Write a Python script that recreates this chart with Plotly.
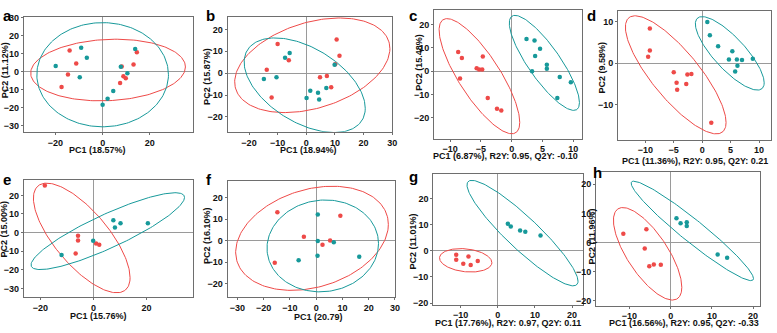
import numpy as np
import plotly.graph_objects as go

W, H = 777, 333
RED = "#EE4A48"
TEAL = "#17999A"

# ---------------- data ----------------
panels = ["a", "b", "c", "d", "e", "f", "g", "h"]

a_red_x = [-14.0, -11.2, -14.7, -17.4, 8.1, 8.8, 9.8, 7.4, 13.1, 14.5]
a_red_y = [11.7, 4.5, -1.6, -8.5, 2.9, -2.5, -3.6, -6.3, 4.0, 10.8]
a_teal_x = [-19.9, -9.1, -6.7, -9.7, 7.7, 10.5, 13.8, 4.5, 2.1, 0.0]
a_teal_y = [3.2, 13.2, 7.7, -3.1, 2.7, -0.9, 12.6, -10.8, -15.1, -18.4]

b_red_x = [-10.0, -13.8, -12.1, -6.1, 4.8, 7.2, 8.7, 10.6, 11.6, 10.1]
b_red_y = [13.3, 1.6, -11.1, 5.9, -1.9, -1.3, -6.4, 15.4, 8.0, 4.1]
b_teal_x = [-14.8, -10.4, -7.4, -5.8, 9.9, 1.4, 4.1, 4.5, 7.0, 0.1]
b_teal_y = [-2.7, -1.9, 7.0, 9.2, 3.9, -8.0, -8.9, -12.0, -6.8, -11.3]

c_red_x = [-8.7, -8.1, -8.4, -4.7, -5.7, -5.3, -4.8, -3.9, -2.4, -1.7]
c_red_y = [8.2, 5.6, -3.1, 6.3, 1.3, 0.7, 0.7, -11.5, -16.1, -16.8]
c_teal_x = [2.4, 3.7, 4.6, 3.8, 3.3, 5.7, 5.7, 7.8, 9.6, 7.4]
c_teal_y = [13.8, 13.1, 9.6, 6.5, 0.0, 2.8, 1.0, -2.5, -4.7, -11.5]

d_red_x = [-9.2, -9.2, -9.5, -5.0, -2.6, -1.9, -4.5, -4.4, -2.8, 1.6]
d_red_y = [8.4, 3.1, 1.6, -2.2, -2.7, -2.6, -4.7, -6.4, -5.0, -14.4]
d_teal_x = [0.9, 1.35, 2.8, 5.3, 4.7, 6.1, 7.0, 8.9, 6.2, 5.8]
d_teal_y = [10.0, 6.8, 4.1, 2.9, 0.9, 0.9, 0.8, 1.1, -0.6, -2.0]

e_red_x = [-18.3, -5.8, -5.8, -6.7, 1.0, 2.2]
e_red_y = [25.3, -1.6, -4.2, -11.2, -5.8, -6.5]
e_teal_x = [-12.0, -0.1, 7.5, 8.1, 10.2, 20.5]
e_teal_y = [-12.0, -4.4, 6.7, 2.8, 5.0, 5.0]

f_red_x = [-14.8, -4.7, -15.8, 5.3, 2.4, 9.2]
f_red_y = [13.2, 1.8, -10.3, 0.0, -2.0, 11.5]
f_teal_x = [0.6, 0.6, 0.5, -6.7, 6.7, 16.4]
f_teal_y = [12.1, -0.2, -7.1, -9.2, -0.8, -7.6]

g_red_x = [-11.2, -11.2, -7.9, -9.3, -7.3, -5.4]
g_red_y = [-1.5, -3.4, -2.1, -4.9, -5.4, -3.9]
g_teal_x = [2.7, 3.5, 6.0, 7.4, 11.5]
g_teal_y = [10.4, 9.4, 7.8, 7.4, 5.9]

h_red_x = [-11.5, -5.9, -6.3, -5.2, -4.1, -2.4]
h_red_y = [3.0, 4.5, -2.1, -8.2, -7.6, -7.7]
h_teal_x = [1.4, 2.4, 3.9, 3.9, 11.4, 13.7]
h_teal_y = [8.3, 6.6, 6.9, 5.6, -4.2, -5.3]

# confidence ellipses: centre x, centre y, half-width x, half-height y, phase
a_red_ell = [2.3, 0.9, 32.8, 17.1, 0.10]
a_teal_ell = [0.0, -1.7, 27.9, 28.9, 0.0]
b_red_ell = [2.1, 3.6, 27.1, 21.6, 0.36]
b_teal_ell = [-0.55, -5.5, 21.15, 21.6, -0.51]
c_red_ell = [-5.25, -2.15, 6.55, 24.65, -0.93]
c_teal_ell = [5.3, 3.55, 5.7, 20.35, -0.99]
d_red_ell = [-4.65, -2.8, 8.85, 14.3, -0.94]
d_teal_ell = [4.85, 2.4, 6.05, 8.9, -0.93]
e_red_ell = [-4.4, -2.85, 18.2, 29.4, -0.81]
e_teal_ell = [5.4, 0.8, 28.9, 20.6, 1.07]
f_red_ell = [-1.6, 1.05, 29.1, 24.25, 0.27]
f_teal_ell = [2.5, -2.5, 21.25, 21.4, 0.05]
g_red_ell = [-8.65, -3.6, 7.05, 4.5, -0.2]
g_teal_ell = [6.65, 6.85, 14.95, 20.25, -1.15]
h_red_ell = [-5.6, -3.95, 8.3, 15.95, -0.81]
h_teal_ell = [5.25, 3.95, 14.85, 17.15, -1.28]

x_titles = ["PC1 (18.57%)", "PC1 (18.94%)", "PC1 (6.87%), R2Y: 0.95, Q2Y: -0.10",
            "PC1 (11.36%), R2Y: 0.95, Q2Y: 0.21", "PC1 (15.76%)", "PC1 (20.79)",
            "PC1 (17.76%), R2Y: 0.97, Q2Y: 0.11", "PC1 (16.56%), R2Y: 0.95, Q2Y: -0.33"]
y_titles = ["PC2 (11.12%)", "PC2 (15.87%)", "PC2 (15.48%)", "PC2 (9.58%)",
            "PC2 (15.00%)", "PC2 (16.10%)", "PC2 (11.01%)", "PC2 (11.96%)"]

x_ticks = [[-20, 0, 20], [-20, -10, 0, 10, 20, 30], [-10, -5, 0, 5, 10],
           [-15, -10, -5, 0, 5, 10], [-20, 0, 20], [-30, -20, -10, 0, 10, 20, 30],
           [-10, 0, 10, 20], [-10, 0, 10, 20]]
y_ticks = [[-30, -20, -10, 0, 10, 20, 30], [-20, -10, 0, 10, 20], [-20, -10, 0, 10, 20],
           [-10, 0, 10], [-30, -20, -10, 0, 10, 20], [-20, -10, 0, 10, 20],
           [-20, -10, 0, 10, 20], [-20, -10, 0, 10, 20]]

# ---------------- layout (pixels) ----------------
boxes = {  # left, right, top, bottom
    "a": (24, 194, 13, 131), "b": (229, 395, 13, 131),
    "c": (437, 586, 6, 138), "d": (622, 776, 7, 139),
    "e": (24, 194, 180, 300), "f": (229, 398, 181, 300),
    "g": (436, 587, 174, 308), "h": (600, 765, 172, 309),
}
ranges = {
    "a": ([-33.4, 38.2], [-33.4, 30.5]), "b": ([-27.5, 30.1], [-26.8, 25.8]),
    "c": ([-12.6, 11.45], [-28.9, 26.25]), "d": ([-14.8, 12.1], [-18.5, 12.7]),
    "e": ([-26.2, 37.4], [-34.4, 28.4]), "f": ([-33.8, 30.2], [-26.2, 27.9]),
    "g": ([-17.4, 23.0], [-20.6, 29.6]), "h": ([-18.1, 21.7], [-21.8, 24.3]),
}
xt_pos = {"a": (98, 149.5), "b": (310, 149.5), "c": (509, 156), "d": (700, 160.5),
          "e": (99, 320), "f": (321, 320.5), "g": (511, 326.5), "h": (688, 326.5)}
yt_pos = {"a": (5, 68), "b": (209, 74), "c": (421, 60), "d": (606, 65),
          "e": (5, 230), "f": (209, 237), "g": (416, 243), "h": (596, 238)}
letter_pos = {"a": (1, 1), "b": (205, 1), "c": (410, 1), "d": (589, 1),
              "e": (1, 169), "f": (205, 169), "g": (410, 166), "h": (595, 162)}

FONT = "Liberation Sans, Arial"

data = globals()
fig = go.Figure()
t = np.linspace(0, 2 * np.pi, 200)
annotations = []
for i, p in enumerate(panels):
    n = "" if i == 0 else str(i + 1)
    xa, ya = "x" + n, "y" + n
    for col, key in [(RED, "red"), (TEAL, "teal")]:
        cx, cy, rx, ry, ph = data[f"{p}_{key}_ell"]
        fig.add_trace(go.Scatter(x=cx + rx * np.cos(t), y=cy + ry * np.sin(t + ph),
                                 mode="lines", line=dict(color=col, width=1),
                                 xaxis=xa, yaxis=ya, hoverinfo="skip"))
    for col, key in [(RED, "red"), (TEAL, "teal")]:
        fig.add_trace(go.Scatter(x=data[f"{p}_{key}_x"], y=data[f"{p}_{key}_y"],
                                 mode="markers", marker=dict(color=col, size=4.5),
                                 xaxis=xa, yaxis=ya))
    l, r, tp, bt = boxes[p]
    xr, yr = ranges[p]
    common = dict(showgrid=False, zeroline=True, zerolinecolor="#9a9a9a", zerolinewidth=1,
                  showline=True, mirror=True, linecolor="#6e6e6e", linewidth=1,
                  ticks="outside", ticklen=2, tickcolor="#6e6e6e",
                  tickfont=dict(family=FONT, size=9, color="#111", weight="bold"))
    fig.update_layout(**{
        ("xaxis" + n): dict(domain=[l / W, r / W], range=xr, anchor=ya,
                            tickvals=x_ticks[i], **common),
        ("yaxis" + n): dict(domain=[1 - bt / H, 1 - tp / H], range=yr, anchor=xa,
                            tickvals=y_ticks[i], **common),
    })
    px, py = xt_pos[p]
    annotations.append(dict(text=x_titles[i], x=px / W, y=1 - py / H, xref="paper", yref="paper",
                            showarrow=False, xanchor="center", yanchor="middle",
                            font=dict(family=FONT, size=9, color="#111", weight="bold")))
    px, py = yt_pos[p]
    annotations.append(dict(text=y_titles[i], x=px / W, y=1 - py / H, xref="paper", yref="paper",
                            showarrow=False, xanchor="center", yanchor="middle", textangle=-90,
                            font=dict(family=FONT, size=9, color="#111", weight="bold")))
    px, py = letter_pos[p]
    annotations.append(dict(text=p, x=px / W, y=1 - py / H, xref="paper", yref="paper",
                            showarrow=False, xanchor="left", yanchor="top",
                            font=dict(family=FONT, size=15, color="#000", weight="bold")))

fig.update_layout(width=W, height=H, margin=dict(l=0, r=0, t=0, b=0),
                  paper_bgcolor="white", plot_bgcolor="white", showlegend=False,
                  annotations=annotations)
fig.write_html("out.html", config={"displayModeBar": False},
               post_script="document.body.style.margin='0';")
